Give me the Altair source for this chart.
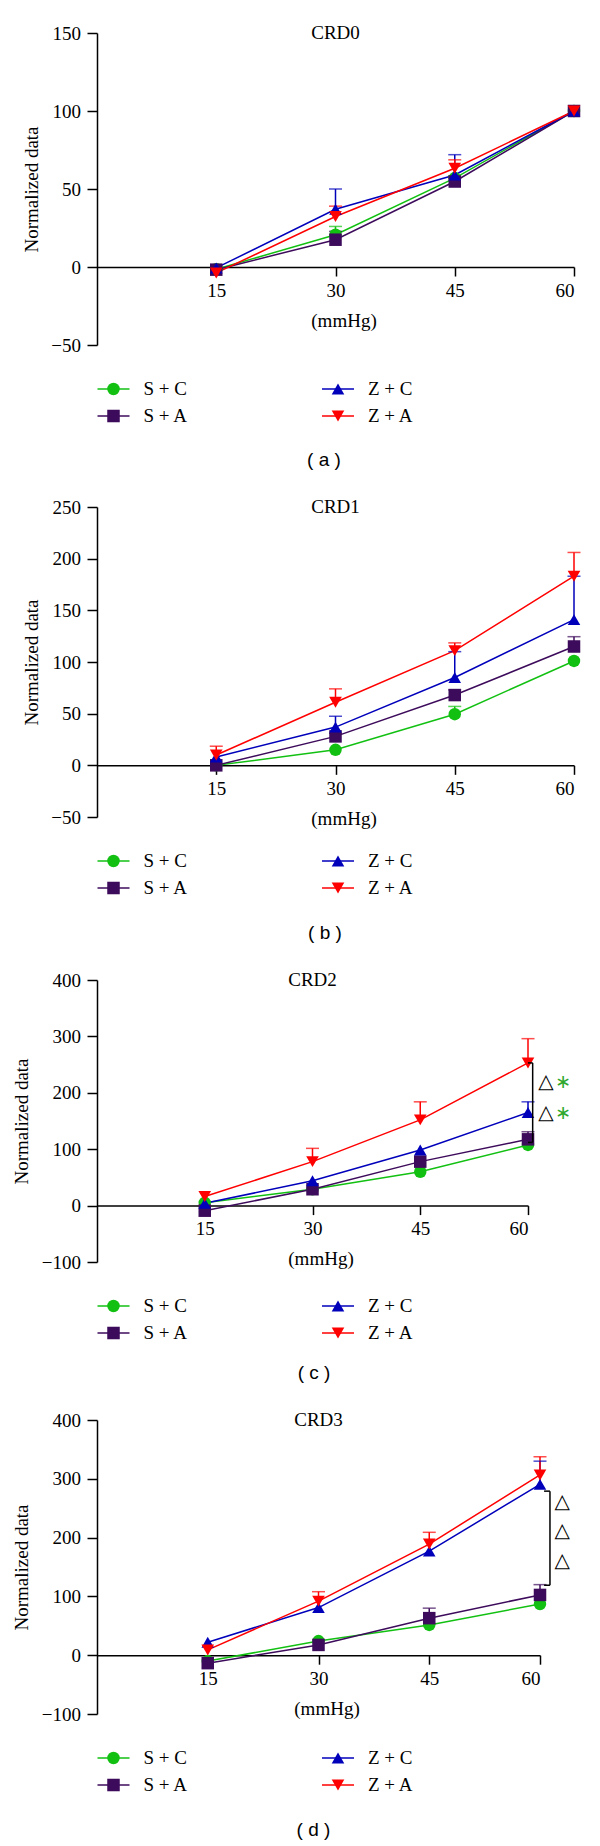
import altair as alt
import pandas as pd

# ---------------- data ----------------
x_vals = [15, 30, 45, 60]
series_names = ["S + C", "S + A", "Z + C", "Z + A"]
series_colors = ["#12c012", "#3d0b5b", "#0000bb", "#ff0000"]
series_shapes = ["circle", "square", "triangle-up", "triangle-down"]
series_sizes = [155, 160, 215, 215]

crd0_sc = [-1.5, 20.7, 57, 100]
crd0_sc_err = [0, 5.3, 1.5, 0]
crd0_sa = [-1.7, 17.5, 54.8, 100]
crd0_sa_err = [0, 5.3, 2, 0]
crd0_zc = [-0.6, 37, 59, 100]
crd0_zc_err = [0, 13, 13, 0]
crd0_za = [-3.8, 32.4, 63.3, 100]
crd0_za_err = [0, 6.6, 5.4, 0]

crd1_sc = [0, 15, 49.5, 101]
crd1_sc_err = [0, 0, 7.5, 0]
crd1_sa = [0, 28, 68, 115]
crd1_sa_err = [0, 3, 5, 9.5]
crd1_zc = [8, 37, 85, 141]
crd1_zc_err = [0, 10.5, 25, 42]
crd1_za = [10, 61, 111, 183]
crd1_za_err = [8.5, 13, 7.5, 23]

crd2_sc = [5, 29, 60, 107.5]
crd2_sc_err = [0, 0, 0, 0]
crd2_sa = [-9, 29, 78, 117.5]
crd2_sa_err = [0, 0, 0, 13.5]
crd2_zc = [4, 44, 98.5, 165]
crd2_zc_err = [0, 0, 0, 19]
crd2_za = [16, 78, 152, 253]
crd2_za_err = [0, 23.5, 32, 43]

crd3_sc = [-10, 24, 51.5, 87]
crd3_sc_err = [0, 0, 0, 0]
crd3_sa = [-13.5, 17.5, 63, 102.5]
crd3_sa_err = [0, 0, 17, 17.5]
crd3_zc = [22, 81, 177, 290.5]
crd3_zc_err = [0, 0, 0, 39.5]
crd3_za = [9, 92, 189, 306.5]
crd3_za_err = [0, 16, 20, 31]

# significance annotations (value units)
crd2_bracket_x = [60.0, 60.65]
crd2_bracket_y = [112, 253]
crd2_marks_y = [220, 165]
crd2_tri_x = 62.5
crd2_star_x = 64.9

crd3_bracket_x = [60.55, 61.35]
crd3_bracket_y = [119, 279]
crd3_marks_y = [260, 211, 161]
crd3_tri_x = 63.0

SERIF = "Liberation Serif"
FS = 19

color_scale = alt.Scale(domain=series_names, range=series_colors)
shape_scale = alt.Scale(domain=series_names, range=series_shapes)
size_scale = alt.Scale(domain=series_names, range=series_sizes)

MINUS = "replace(datum.label, '-', '\u2212')"


def long_df(values, errs):
    rows = []
    for name, vals, es in zip(series_names, values, errs):
        for xv, v, e in zip(x_vals, vals, es):
            rows.append({"series": name, "x": xv, "y": v, "err": e, "upper": v + e, "ord": len(rows)})
    return pd.DataFrame(rows)


def panel(title, letter, values, errs, ymin, ymax, ystep, W, H, axis_px, lab_off, annot=None):
    df = long_df(values, errs)
    dfe = df[df["err"] > 0]
    ux = 60.0 / W          # value per px (x)
    uy = (ymax - ymin) / H  # value per px (y)

    xs = alt.Scale(domain=[0, 60], nice=False, zero=False)
    ys = alt.Scale(domain=[ymin, ymax], nice=False, zero=False)
    off = H * (0 - ymin) / (ymax - ymin)

    xenc = alt.X("x:Q", scale=xs, axis=alt.Axis(
        values=x_vals, title="(mmHg)", offset=-off, grid=False, tickSize=9,
        labelPadding=5, titlePadding=11, titleX=W / 2 + 8))
    yenc = alt.Y("y:Q", scale=ys, axis=alt.Axis(
        values=list(range(ymin, ymax + 1, ystep)), title="Normalized data",
        grid=False, tickSize=10, labelPadding=6.5, titlePadding=9.5, labelExpr=MINUS))
    col = alt.Color("series:N", scale=color_scale, legend=None)

    base = alt.Chart(df)
    lines = base.mark_line(strokeWidth=1.5).encode(x=xenc, y=yenc, color=col, detail="series:N")
    err_rule = alt.Chart(dfe).mark_rule(strokeWidth=1.5).encode(
        x="x:Q", y="y:Q", y2="upper:Q", color=col)
    err_cap = alt.Chart(dfe).mark_tick(orient="horizontal", size=13, thickness=1.5).encode(
        x="x:Q", y="upper:Q", color=col)
    pts = base.mark_point(filled=True, opacity=1).encode(
        x="x:Q", y="y:Q", color=col,
        shape=alt.Shape("series:N", scale=shape_scale, legend=None),
        size=alt.Size("series:N", scale=size_scale, legend=None),
        order="ord:Q")

    ttl = alt.Chart(pd.DataFrame({"t": [title]})).mark_text(
        font=SERIF, fontSize=FS, baseline="middle", align="center", color="black").encode(
        x=alt.datum(30), y=alt.datum(ymax), text="t:N")

    # legend built from the series list
    leg_rows = []
    for i, name in enumerate(series_names):
        c, r = i // 2, i % 2
        mx = (16.5 + c * 224.5) * ux
        ly = ymin - (44 + r * 27) * uy
        leg_rows.append({"series": name, "mx": mx, "x1": mx - 16 * ux, "x2": mx + 16 * ux,
                         "tx": mx + 30 * ux, "ly": ly})
    leg = pd.DataFrame(leg_rows)
    lg_line = alt.Chart(leg).mark_rule(strokeWidth=1.5).encode(
        x="x1:Q", x2="x2:Q", y="ly:Q", color=col)
    lg_pt = alt.Chart(leg).mark_point(filled=True, opacity=1).encode(
        x="mx:Q", y="ly:Q", color=col,
        shape=alt.Shape("series:N", scale=shape_scale, legend=None),
        size=alt.Size("series:N", scale=size_scale, legend=None))
    lg_txt = alt.Chart(leg).mark_text(font=SERIF, fontSize=FS, align="left",
                                      baseline="middle", color="black").encode(
        x="tx:Q", y="ly:Q", text="series:N")

    lab = alt.Chart(pd.DataFrame({"t": [letter]})).mark_text(
        font="Liberation Sans", fontSize=19, baseline="middle", align="center", color="black").encode(
        x=alt.datum((323 - axis_px) * ux), y=alt.datum(ymin - lab_off * uy), text="t:N")

    layers = [lines, err_rule, err_cap, pts, ttl, lg_line, lg_pt, lg_txt, lab]
    if annot is not None:
        layers += annot
    return alt.layer(*layers).properties(width=W, height=H)


def bracket(bx, by):
    bx0, bx1 = bx
    br = pd.DataFrame({"x": [bx1, bx0, bx0], "x2": [bx1, bx1, bx1],
                       "y": [by[0], by[0], by[1]], "y2": [by[1], by[0], by[1]]})
    return alt.Chart(br).mark_rule(color="black", strokeWidth=1.5).encode(
        x="x:Q", x2="x2:Q", y="y:Q", y2="y2:Q")


def tri_marks(xv, ys):
    return alt.Chart(pd.DataFrame({"y": ys, "t": ["\u25b3"] * len(ys)})).mark_text(
        font="DejaVu Sans", fontSize=20, color="black", baseline="middle").encode(
        x=alt.datum(xv), y="y:Q", text="t:N")


def annot_c():
    star = alt.Chart(pd.DataFrame({"y": crd2_marks_y, "t": ["\u2217"] * 2})).mark_text(
        font="DejaVu Sans", fontSize=19, color="#2ea82e", baseline="middle").encode(
        x=alt.datum(crd2_star_x), y="y:Q", text="t:N")
    return [bracket(crd2_bracket_x, crd2_bracket_y), tri_marks(crd2_tri_x, crd2_marks_y), star]


def annot_d():
    return [bracket(crd3_bracket_x, crd3_bracket_y), tri_marks(crd3_tri_x, crd3_marks_y)]


pa = panel("CRD0", "( a )", [crd0_sc, crd0_sa, crd0_zc, crd0_za],
           [crd0_sc_err, crd0_sa_err, crd0_zc_err, crd0_za_err], -50, 150, 50, 477, 312, 96, 115)
pb = panel("CRD1", "( b )", [crd1_sc, crd1_sa, crd1_zc, crd1_za],
           [crd1_sc_err, crd1_sa_err, crd1_zc_err, crd1_za_err], -50, 250, 50, 477, 310, 95, 116)
pc = panel("CRD2", "( c )", [crd2_sc, crd2_sa, crd2_zc, crd2_za],
           [crd2_sc_err, crd2_sa_err, crd2_zc_err, crd2_za_err], -100, 400, 100, 431, 282, 106, 111,
           annot_c())
pd_ = panel("CRD3", "( d )", [crd3_sc, crd3_sa, crd3_zc, crd3_za],
            [crd3_sc_err, crd3_sa_err, crd3_zc_err, crd3_za_err], -100, 400, 100, 443, 294, 106.5, 116,
            annot_d())

chart = alt.concat(pa, pb, pc, pd_, columns=1, spacing=28, align="none").properties(
    padding={"left": 4, "top": 16, "right": 5, "bottom": 5}
).configure_view(stroke=None).configure_axis(
    domainColor="black", tickColor="black", domainWidth=1.5, tickWidth=1.5,
    labelFont=SERIF, labelFontSize=FS, labelColor="black",
    titleFont=SERIF, titleFontSize=FS, titleFontWeight="normal", titleColor="black"
)

chart.save("out.html", embed_options={"renderer": "svg", "actions": False})
